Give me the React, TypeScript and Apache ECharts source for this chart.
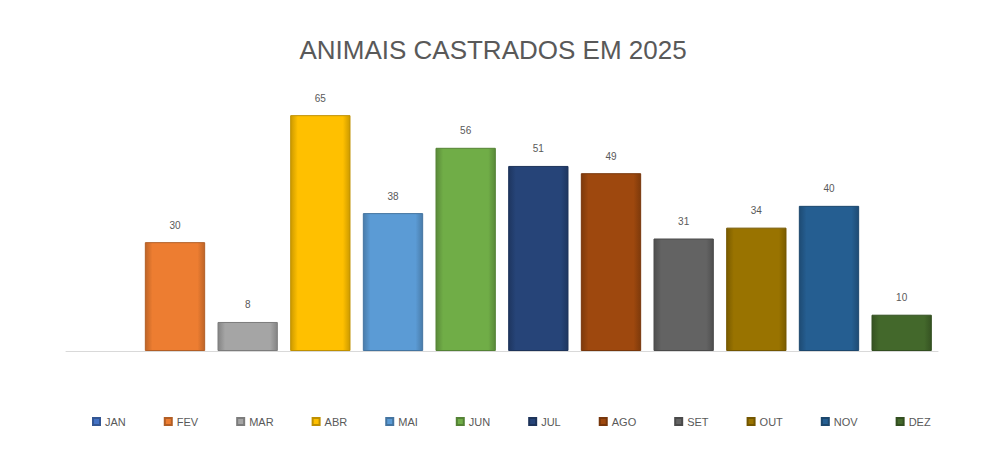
import React, { useEffect, useRef } from "react";
import * as echarts from "echarts";

const TITLE = "ANIMAIS CASTRADOS EM 2025";
const MONTHS = ["JAN", "FEV", "MAR", "ABR", "MAI", "JUN", "JUL", "AGO", "SET", "OUT", "NOV", "DEZ"];
const VALUES: (number | null)[] = [null, 30, 8, 65, 38, 56, 51, 49, 31, 34, 40, 10];
const COLORS = ["#4472C4", "#ED7D31", "#A5A5A5", "#FFC000", "#5B9BD5", "#70AD47", "#264478", "#9E480E", "#636363", "#997300", "#255E91", "#43682B"];

function shade(hex: string, f: number): string {
  const n = parseInt(hex.slice(1), 16);
  let r = (n >> 16) & 255, g = (n >> 8) & 255, b = n & 255;
  r = Math.round(r * f); g = Math.round(g * f); b = Math.round(b * f);
  const c = (v: number) => Math.max(0, Math.min(255, v)).toString(16).padStart(2, "0");
  return "#" + c(r) + c(g) + c(b);
}

export default function App() {
  const ref = useRef<HTMLDivElement>(null);
  useEffect(() => {
    if (!ref.current) return;
    const chart = echarts.init(ref.current, null, { renderer: "svg" });
    const series = MONTHS.map((m, i) => ({
      name: m,
      type: "bar",
      stack: "total",
      barCategoryGap: "17%",
      data: MONTHS.map((_, j) => (j === i ? VALUES[i] : null)),
      itemStyle: {
        color: new echarts.graphic.LinearGradient(1, 0, 0, 0, [
          { offset: 0, color: shade(COLORS[i], 0.8) },
          { offset: 0.12, color: COLORS[i] },
          { offset: 0.88, color: COLORS[i] },
          { offset: 1, color: shade(COLORS[i], 0.8) },
        ]),
        borderColor: shade(COLORS[i], 0.75),
        borderWidth: 1,
      },
      label: {
        show: true,
        position: "top",
        distance: 12,
        fontSize: 10,
        color: "#595959",
        fontFamily: "Liberation Sans",
      },
    }));
    chart.setOption({
      animation: false,
      backgroundColor: "#ffffff",
      color: COLORS,
      title: {
        text: TITLE,
        left: "center",
        top: 32,
        textStyle: { fontSize: 26, fontWeight: "normal", color: "#595959", fontFamily: "Liberation Sans" },
      },
      legend: {
        data: MONTHS,
        left: 87,
        top: 411,
        icon: "rect",
        itemWidth: 7,
        itemHeight: 7,
        itemGap: 38,
        textStyle: { fontSize: 11, color: "#595959", fontFamily: "Liberation Sans" },
      },
      grid: { left: 66, right: 48, top: 97, bottom: 98 },
      xAxis: {
        type: "category",
        data: MONTHS,
        axisLine: { show: true, lineStyle: { color: "#D9D9D9", width: 1 } },
        axisTick: { show: false },
        axisLabel: { show: false },
      },
      yAxis: {
        type: "value",
        min: 0,
        max: 70,
        show: false,
        splitLine: { show: false },
      },
      series,
    });
    return () => chart.dispose();
  }, []);
  return (
    <div
      ref={ref}
      style={{ position: "fixed", left: 0, top: 0, width: 986, height: 449, background: "#fff" }}
    />
  );
}
